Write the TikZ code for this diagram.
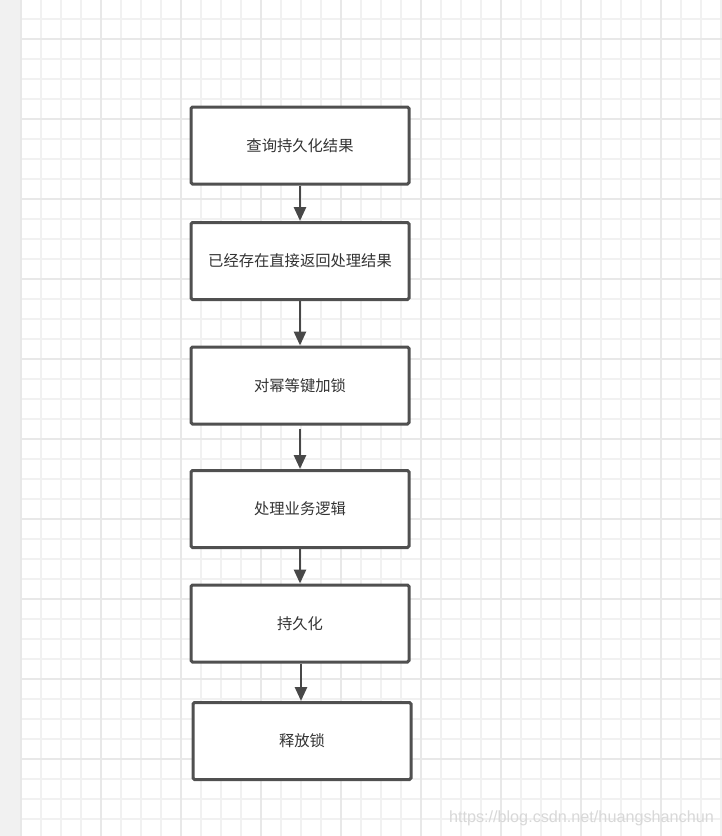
\documentclass[tikz,border=0pt]{standalone}
\usepackage{fontspec}
\newfontfamily\cjk{Noto Sans CJK SC}
\setsansfont{Liberation Sans}
\usetikzlibrary{arrows.meta}
\definecolor{stripgray}{HTML}{F1F1F1}
\definecolor{minorgrid}{HTML}{F1F1F1}
\definecolor{majorgrid}{HTML}{E8E8E8}
\definecolor{boxline}{HTML}{505050}
\definecolor{txt}{HTML}{333333}
\definecolor{wm}{HTML}{D8D8D8}
\tikzset{
  flowbox/.style={draw=boxline, line width=3pt, fill=white, rounded corners=1.5pt,
    minimum width=218pt, minimum height=77pt, inner sep=0pt,
    font=\cjk\fontsize{15.3}{18}\selectfont, text=txt},
  flowarrow/.style={draw=boxline!90!black, line width=2.8pt,
    -{Triangle[width=12pt,length=14pt]}},
  minorline/.style={draw=minorgrid, line width=1.5pt},
  majorline/.style={draw=majorgrid, line width=1.6pt}
}
\begin{document}
\begin{tikzpicture}[x=1pt,y=-1pt]
\useasboundingbox (0,0) rectangle (722,836);
\fill[white] (0,0) rectangle (722,836);
\fill[stripgray] (0,0) rectangle (21,836);
% grid
\foreach \gx in {41,61,...,721} {\draw[minorline] (\gx,0) -- (\gx,836);}
\foreach \gy in {19,39,...,835} {\draw[minorline] (21,\gy) -- (722,\gy);}
\foreach \gx in {101,181,...,721} {\draw[majorline] (\gx,0) -- (\gx,836);}
\foreach \gy in {39,119,...,835} {\draw[majorline] (21,\gy) -- (722,\gy);}
\draw[majorline] (21,0) -- (21,836);
% boxes
\node[flowbox] (b1) at (300,145.5) {查询持久化结果};
\node[flowbox] (b2) at (300,261) {已经存在直接返回处理结果};
\node[flowbox] (b3) at (300,385.5) {对幂等键加锁};
\node[flowbox] (b4) at (300,509) {处理业务逻辑};
\node[flowbox] (b5) at (300,623.5) {持久化};
\node[flowbox] (b6) at (302,741) {释放锁};
% arrows
\draw[flowarrow] (b1.south) -- (b2.north);
\draw[flowarrow] (b2.south) -- (b3.north);
\draw[flowarrow] ([yshift=-3pt]b3.south) -- (b4.north);
\draw[flowarrow] (b4.south) -- (b5.north);
\draw[flowarrow] ([xshift=1pt]b5.south) -- ([xshift=1pt]b5.south |- b6.north);
% watermark
\node[text=wm, font=\sffamily\fontsize{16.2}{18}\selectfont, anchor=east, inner sep=0pt] (wmark) at (714,818) {https://blog.csdn.net/huangshanchun};
\end{tikzpicture}
\end{document}
